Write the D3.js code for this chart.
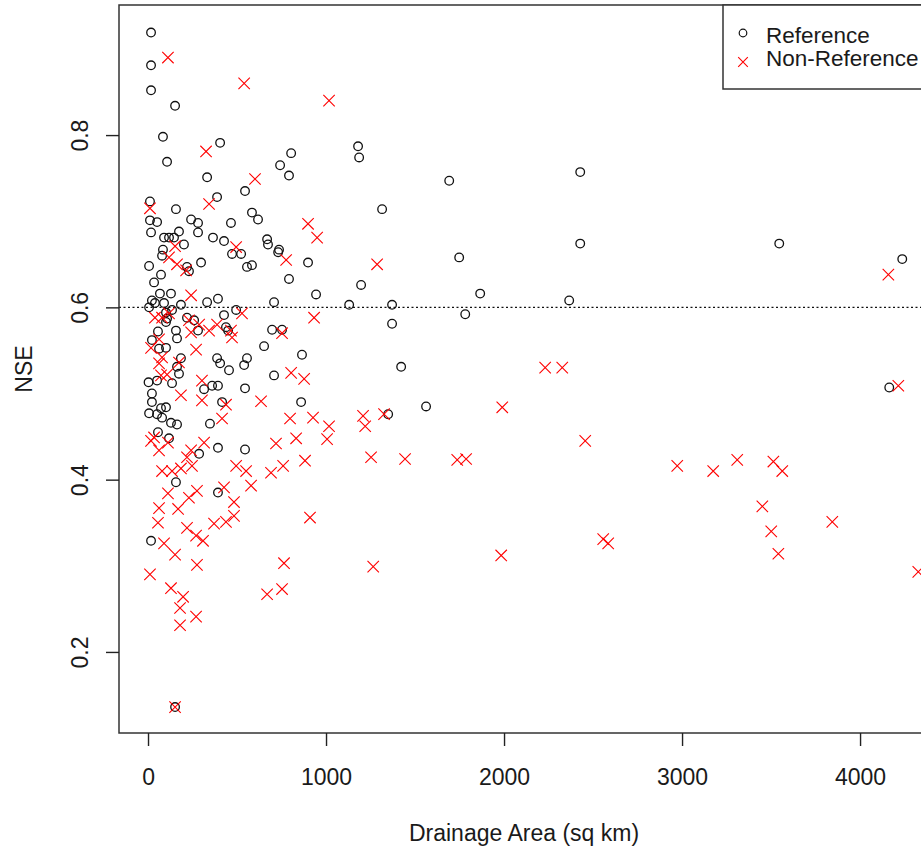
<!DOCTYPE html>
<html>
<head>
<meta charset="utf-8">
<script src="https://cdn.jsdelivr.net/npm/d3@7"></script>
<style>
  html, body { margin: 0; padding: 0; background: #fff; }
  svg { display: block; }
  text { font-family: "Liberation Sans", Arial, sans-serif; fill: #1a1a1a; }
</style>
</head>
<body>
<svg id="chart" width="921" height="849"></svg>
<script>
// ---- Data ----
const refArea = [17,17,17,152,84,107,405,804,742,792,332,545,388,11,157,584,618,11,51,242,281,466,17,281,174,90,118,146,365,427,669,674,736,202,84,79,472,523,731,6,219,230,298,556,584,899,73,34,792,944,67,129,22,39,90,185,332,393,708,6,101,135,495,427,219,259,107,101,438,450,281,157,697,753,56,22,163,62,101,652,865,388,405,455,556,540,185,163,174,708,3,51,135,360,393,315,545,22,22,416,860,73,101,6,51,79,129,163,348,56,118,393,545,287,157,393,17,152,1180,1186,1692,1315,2428,2428,1748,1197,1130,1371,1866,2366,1782,1371,1422,1562,1349,3546,4237,4164];
const refNSE = [0.919,0.881,0.852,0.834,0.798,0.769,0.791,0.779,0.765,0.753,0.751,0.735,0.728,0.723,0.714,0.710,0.702,0.701,0.699,0.702,0.698,0.698,0.687,0.687,0.688,0.681,0.681,0.681,0.681,0.677,0.679,0.673,0.667,0.673,0.667,0.660,0.662,0.662,0.664,0.648,0.647,0.642,0.652,0.647,0.649,0.652,0.638,0.629,0.633,0.615,0.616,0.616,0.608,0.605,0.605,0.603,0.606,0.610,0.606,0.600,0.594,0.597,0.597,0.591,0.588,0.585,0.587,0.583,0.577,0.573,0.573,0.573,0.574,0.574,0.572,0.562,0.564,0.552,0.553,0.555,0.545,0.541,0.535,0.527,0.541,0.533,0.541,0.531,0.523,0.521,0.513,0.515,0.512,0.509,0.509,0.505,0.506,0.500,0.490,0.490,0.490,0.483,0.484,0.477,0.476,0.472,0.466,0.464,0.465,0.455,0.448,0.437,0.435,0.430,0.397,0.385,0.329,0.136,0.787,0.774,0.747,0.714,0.757,0.674,0.658,0.626,0.603,0.603,0.616,0.608,0.592,0.581,0.531,0.485,0.476,0.674,0.656,0.507];

const nonArea = [112,540,326,601,343,11,899,950,152,495,1017,1287,933,118,163,214,776,242,39,79,118,230,528,343,388,466,472,753,242,270,62,17,79,62,174,73,107,303,804,877,185,303,635,438,416,798,927,34,17,112,62,832,719,315,242,219,79,135,185,247,495,551,691,759,882,112,230,275,427,579,62,169,483,483,438,56,371,219,270,309,90,152,275,11,129,197,180,270,180,764,753,669,910,152,2231,2327,1017,1208,1220,1326,1006,1253,1444,1737,1787,1990,2456,2557,2585,1265,1984,4159,4215,2973,3175,3310,3513,3563,3451,3501,3541,3844,4327,287];
const nonNSE = [0.890,0.860,0.781,0.749,0.720,0.715,0.697,0.681,0.671,0.670,0.840,0.650,0.588,0.658,0.650,0.643,0.655,0.614,0.588,0.588,0.593,0.585,0.593,0.573,0.580,0.573,0.565,0.570,0.571,0.551,0.563,0.553,0.542,0.535,0.536,0.521,0.522,0.515,0.524,0.517,0.498,0.492,0.491,0.487,0.471,0.471,0.472,0.449,0.445,0.443,0.434,0.448,0.442,0.443,0.434,0.426,0.410,0.410,0.413,0.416,0.416,0.410,0.408,0.416,0.422,0.384,0.379,0.387,0.391,0.393,0.367,0.366,0.374,0.358,0.351,0.350,0.349,0.344,0.335,0.329,0.326,0.313,0.301,0.290,0.274,0.264,0.251,0.241,0.231,0.303,0.273,0.267,0.356,0.136,0.530,0.530,0.462,0.474,0.462,0.476,0.447,0.426,0.424,0.423,0.424,0.484,0.445,0.331,0.326,0.299,0.312,0.638,0.509,0.416,0.410,0.423,0.421,0.410,0.369,0.340,0.314,0.351,0.293,0.580];

const xTicks = [0, 1000, 2000, 3000, 4000];
const yTicks = [0.2, 0.4, 0.6, 0.8];
const refLine = 0.6;
const seriesNames = ["Reference", "Non-Reference"];
const xTitle = "Drainage Area (sq km)";
const yTitle = "NSE";

// ---- Layout ----
const svg = d3.select("#chart");
const plot = { left: 119, right: 935, top: 5, bottom: 733 };

const x = d3.scaleLinear().domain([-163, 4421]).range([plot.left, plot.right]);
const y = d3.scaleLinear().domain([0.1059, 0.951]).range([plot.bottom, plot.top]);

svg.append("rect").attr("width", 921).attr("height", 849).attr("fill", "#fff");

// dotted reference line
svg.append("line")
  .attr("x1", plot.left).attr("x2", plot.right)
  .attr("y1", y(refLine)).attr("y2", y(refLine))
  .attr("stroke", "#111").attr("stroke-width", 1.3)
  .attr("stroke-dasharray", "2,2.5");

// reference points (circles)
const refData = refArea.map((a, i) => ({ a, n: refNSE[i] }));
svg.append("g").selectAll("circle").data(refData).join("circle")
  .attr("cx", d => x(d.a)).attr("cy", d => y(d.n)).attr("r", 4.3)
  .attr("fill", "none").attr("stroke", "#111").attr("stroke-width", 1.3);

// non-reference points (crosses)
const nonData = nonArea.map((a, i) => ({ a, n: nonNSE[i] }));
const cross = (cx, cy, h) => `M${cx - h},${cy - h}L${cx + h},${cy + h}M${cx - h},${cy + h}L${cx + h},${cy - h}`;
svg.append("g").selectAll("path").data(nonData).join("path")
  .attr("d", d => cross(x(d.a), y(d.n), 5.7))
  .attr("fill", "none").attr("stroke", "#ff0000").attr("stroke-width", 1.1);

// box
svg.append("rect")
  .attr("x", plot.left).attr("y", plot.top)
  .attr("width", plot.right - plot.left).attr("height", plot.bottom - plot.top)
  .attr("fill", "none").attr("stroke", "#333").attr("stroke-width", 1.5);

// x axis
const gx = svg.append("g").attr("transform", `translate(0,${plot.bottom})`)
  .call(d3.axisBottom(x).tickValues(xTicks).tickSize(13).tickFormat(d3.format("d")));
gx.select(".domain").remove();
gx.selectAll(".tick line").attr("stroke", "#222").attr("stroke-width", 1.4);
gx.selectAll(".tick text").attr("y", 52).attr("dy", 0)
  .style("font-size", "23px").style("font-family", "Liberation Sans, Arial, sans-serif").attr("fill", "#1a1a1a");

// y axis
const gy = svg.append("g").attr("transform", `translate(${plot.left},0)`)
  .call(d3.axisLeft(y).tickValues(yTicks).tickSize(13).tickFormat(d3.format(".1f")));
gy.select(".domain").remove();
gy.selectAll(".tick line").attr("stroke", "#222").attr("stroke-width", 1.4);
gy.selectAll(".tick text")
  .attr("x", null).attr("dy", 0)
  .attr("transform", "translate(-31,0) rotate(-90)")
  .attr("text-anchor", "middle")
  .style("font-size", "23px").style("font-family", "Liberation Sans, Arial, sans-serif").attr("fill", "#1a1a1a");

// axis titles
svg.append("text").attr("x", (plot.left + plot.right) / 2 - 3).attr("y", 841)
  .attr("text-anchor", "middle").style("font-size", "23px").text(xTitle);
svg.append("text").attr("transform", `translate(32,${(plot.top + plot.bottom) / 2}) rotate(-90)`)
  .attr("text-anchor", "middle").style("font-size", "23px").text(yTitle);

// legend
const lg = svg.append("g");
lg.append("rect").attr("x", 723).attr("y", plot.top).attr("width", 300).attr("height", 84)
  .attr("fill", "#fff").attr("stroke", "#333").attr("stroke-width", 1.5);
lg.append("circle").attr("cx", 743).attr("cy", 33).attr("r", 3.8)
  .attr("fill", "none").attr("stroke", "#111").attr("stroke-width", 1.2);
lg.append("path").attr("d", cross(743, 62, 4.8))
  .attr("fill", "none").attr("stroke", "#ff0000").attr("stroke-width", 1.1);
lg.append("text").attr("x", 766).attr("y", 43).style("font-size", "22.5px").text(seriesNames[0]);
lg.append("text").attr("x", 766).attr("y", 66).style("font-size", "22.5px").text(seriesNames[1]);
</script>
</body>
</html>
